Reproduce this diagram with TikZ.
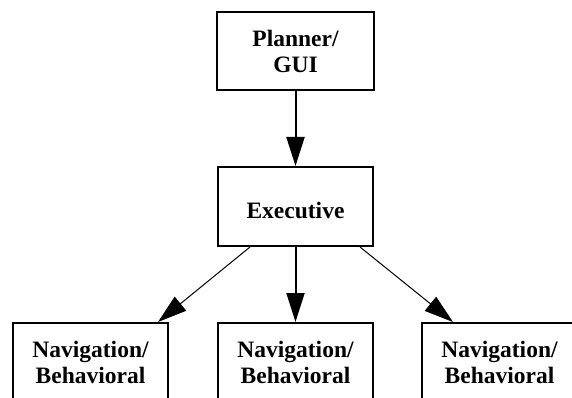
\documentclass[tikz,border=0pt]{standalone}
\usepackage{fontspec}
\setmainfont{Liberation Serif}
\usetikzlibrary{arrows.meta}

\tikzset{
    blockbox/.style={draw, line width=2pt, minimum width=155pt, minimum height=79pt,
        inner sep=0pt, align=center, font=\fontsize{23.5}{26}\selectfont\bfseries},
    bigtip/.style={-{Triangle[length=29pt,width=18pt]}},
}

\begin{document}
\begin{tikzpicture}[x=1pt, y=-1pt]
    \useasboundingbox (0,0) rectangle (572,398);

    \node[blockbox, minimum width=157pt, minimum height=78pt] (planner) at (295.5,51) {Planner/\\GUI};
    \node[blockbox, text height=23pt, text depth=0pt] (exec) at (295.5,206.5) {Executive};

    \node[blockbox] (navl) at (90.5,362.5) {Navigation/\\Behavioral};
    \node[blockbox] (navm) at (295.5,362.5) {Navigation/\\Behavioral};
    \node[blockbox] (navr) at (499.5,362.5) {Navigation/\\Behavioral};

    \draw[bigtip, line width=2pt] (planner) -- (exec);
    \draw[bigtip, line width=2pt] (exec) -- (navm);
    \draw[bigtip, line width=1pt] ([xshift=33pt]exec.south west) -- ([xshift=-11pt]navl.north east);
    \draw[bigtip, line width=1pt] ([xshift=-14pt]exec.south east) -- ([xshift=32pt]navr.north west);
\end{tikzpicture}
\end{document}
